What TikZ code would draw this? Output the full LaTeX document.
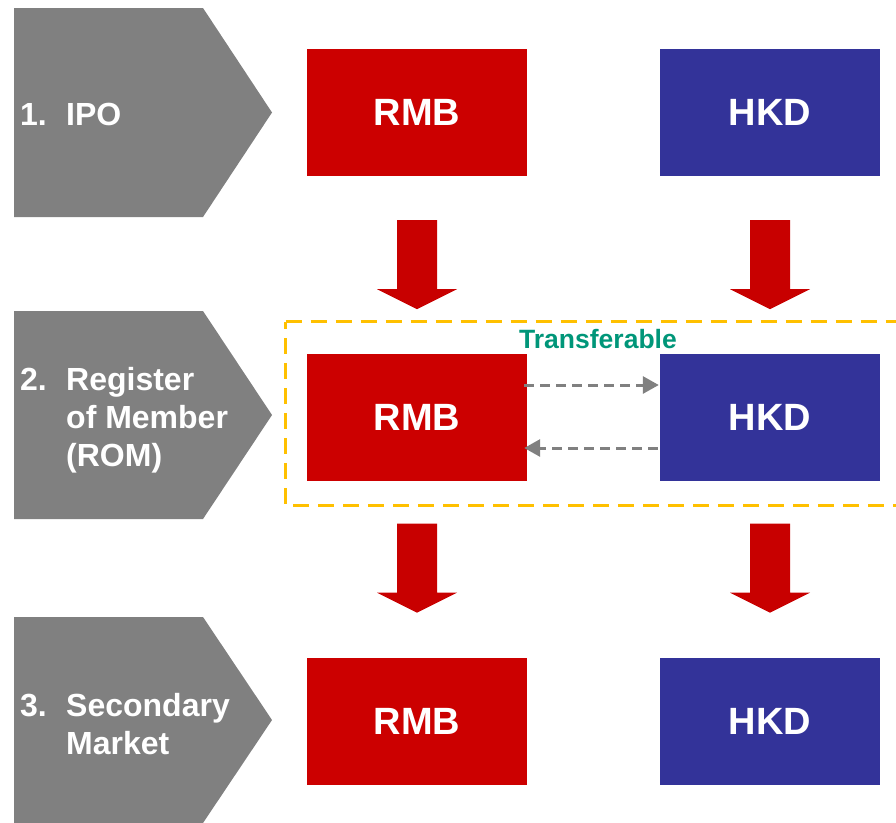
\documentclass[tikz,border=0pt]{standalone}
\usepackage{fontspec}
\setmainfont{Liberation Sans}
\usetikzlibrary{arrows.meta,calc}

\definecolor{stagegray}{HTML}{808080}
\definecolor{rmbred}{HTML}{CC0000}
\definecolor{hkdblue}{HTML}{333399}
\definecolor{flowred}{HTML}{C80000}
\definecolor{zoneamber}{HTML}{FFC000}
\definecolor{labelgreen}{HTML}{009679}
\definecolor{linkgray}{HTML}{808080}

\tikzset{
  cur/.style={rectangle, inner sep=0pt, minimum width=220pt, minimum height=127pt,
              text=white, font=\fontsize{38}{42}\selectfont\bfseries},
  rmb/.style={cur, fill=rmbred},
  hkd/.style={cur, fill=hkdblue},
  stage/.style={fill=stagegray},
  stagetext/.style={text=white, inner sep=0pt, anchor=west, align=left,
              font=\fontsize{32}{38}\selectfont\bfseries},
  link/.style={draw=linkgray, line width=3pt, dash pattern=on 10pt off 6pt,
              -{Triangle[length=16pt,width=17pt]}},
  zone/.style={draw=zoneamber, line width=3pt, dash pattern=on 16pt off 9pt},
  pics/downflow/.style={code={
    \fill[flowred] (-20,0) -- (20,0) -- (20,69) -- (40,69) -- (0,89)
                   -- (-40,69) -- (-20,69) -- cycle;
  }}
}

\begin{document}
\begin{tikzpicture}[x=1pt, y=-1pt]
\useasboundingbox (0,0) rectangle (896,822);
\clip (0,0) rectangle (896,822);

% stage chevrons
\fill[stage] (14,8) -- (203,8) -- (272,112.5) -- (203,217) -- (14,217) -- cycle;
\fill[stage] (14,311) -- (203,311) -- (272,415) -- (203,519) -- (14,519) -- cycle;
\fill[stage] (14,617) -- (203,617) -- (272,720) -- (203,823) -- (14,823) -- cycle;

\node[stagetext] (n1) at (20,114) {1.};
\node[stagetext] (s1) at (66,114) {IPO};
\node[stagetext] (n2) at (20,379) {2.};
\node[stagetext] (s2) at (66,420) {Register\\of Member\\(ROM)};
\node[stagetext] (n3) at (20,705) {3.};
\node[stagetext] (s3) at (66,724) {Secondary\\Market};

% currency boxes
\node[rmb] (r1) at (417,112.5) {RMB};
\node[hkd] (h1) at (770,112.5) {HKD};
\node[rmb] (r2) at (417,417) {RMB};
\node[hkd] (h2) at (770,417) {HKD};
\node[rmb] (r3) at (417,721.5) {RMB};
\node[hkd] (h3) at (770,721.5) {HKD};

% flow between stages
\pic at ($(r1.south)+(0,44)$) {downflow};
\pic at ($(h1.south)+(0,44)$) {downflow};
\pic at ($(r2.south)+(0,43)$) {downflow};
\pic at ($(h2.south)+(0,43)$) {downflow};

% transferable zone
\draw[zone] (285.5,321.5) -- (930,321.5) -- (930,505.5) -- (285.5,505.5) -- cycle;
\node[text=labelgreen, font=\fontsize{26.5}{30}\selectfont\bfseries, inner sep=0pt]
  (tr) at (598,339) {Transferable};

% two-way transfer
\draw[link] ([xshift=-3pt,yshift=32pt]r2.east) -- ([xshift=-1pt,yshift=32pt]h2.west);
\draw[link] ([xshift=-2pt,yshift=-31pt]h2.west) -- ([xshift=-3pt,yshift=-31pt]r2.east);
\end{tikzpicture}
\end{document}
